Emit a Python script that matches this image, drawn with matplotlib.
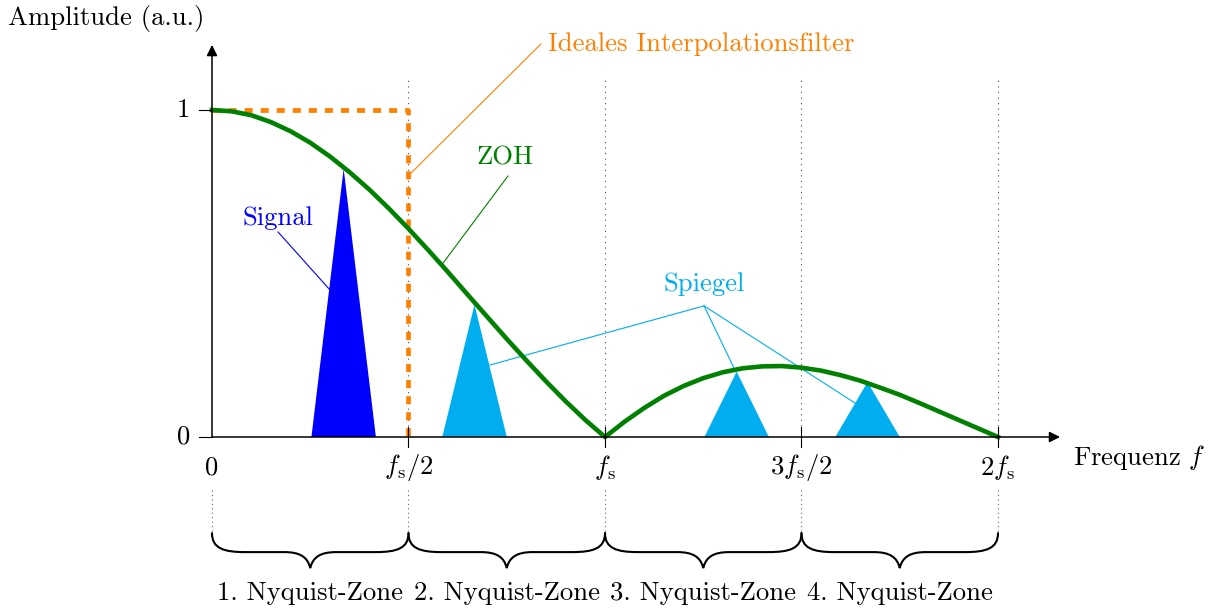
import numpy as np
import matplotlib
import matplotlib.pyplot as plt
from matplotlib.path import Path
from matplotlib.patches import PathPatch, Polygon

plt.rcParams['font.family'] = ['cmr10', 'DejaVu Serif']
plt.rcParams['mathtext.fontset'] = 'cm'
plt.rcParams['axes.unicode_minus'] = False

# frequency in units of fs, ZOH magnitude
f_zoh = [0.00, 0.05, 0.10, 0.15, 0.20, 0.25, 0.30, 0.35, 0.40, 0.45, 0.50,
         0.55, 0.60, 0.65, 0.70, 0.75, 0.80, 0.85, 0.90, 0.95, 1.00,
         1.05, 1.10, 1.15, 1.20, 1.25, 1.30, 1.35, 1.40, 1.45, 1.50,
         1.55, 1.60, 1.65, 1.70, 1.75, 1.80, 1.85, 1.90, 1.95, 2.00]
a_zoh = [1.000, 0.996, 0.984, 0.963, 0.935, 0.900, 0.858, 0.810, 0.757, 0.699, 0.637,
         0.572, 0.505, 0.436, 0.368, 0.300, 0.234, 0.170, 0.109, 0.052, 0.000,
         0.047, 0.089, 0.126, 0.156, 0.180, 0.198, 0.210, 0.216, 0.217, 0.212,
         0.203, 0.189, 0.172, 0.151, 0.129, 0.104, 0.078, 0.052, 0.026, 0.000]

# ideal interpolation filter
f_ideal = [0.0, 0.5, 0.5]
a_ideal = [1.0, 1.0, 0.0]

# signal and image spectra (triangles)
tri_center = [0.335, 0.668, 1.335, 1.668]
tri_height = [0.82, 0.405, 0.20, 0.168]
tri_halfwidth = 0.082

tick_pos = [0.0, 0.5, 1.0, 1.5, 2.0]
tick_labels = ['0', r'$f_\mathrm{s}/2$', r'$f_\mathrm{s}$', r'$3f_\mathrm{s}/2$', r'$2f_\mathrm{s}$']
zones = ['1. Nyquist-Zone', '2. Nyquist-Zone', '3. Nyquist-Zone', '4. Nyquist-Zone']

BLUE = '#0000ff'
CYAN = '#00aeef'
GREEN = '#008000'
ORANGE = '#ff8000'
FS = 19.2

fig = plt.figure(figsize=(12.11, 6.10), dpi=100)
ax = fig.add_axes([0, 0, 1, 1])
ax.set_xlim(-212 / 393, (1211 - 212) / 393)
ax.set_ylim(-(610 - 437) / 327, 437 / 327)
ax.axis('off')

# dotted guide lines
for x in tick_pos[1:]:
    ax.plot([x, x], [0, 1.092], color='0.3', lw=0.8, ls=(0, (1, 4)), zorder=1)
for x in tick_pos:
    ax.plot([x, x], [-0.162, -0.29], color='0.4', lw=0.8, ls=(0, (1, 3)), zorder=1)

# triangles
for i, (c, h) in enumerate(zip(tri_center, tri_height)):
    col = BLUE if i == 0 else CYAN
    ax.add_patch(Polygon([[c - tri_halfwidth, 0], [c, h], [c + tri_halfwidth, 0]],
                         closed=True, facecolor=col, edgecolor='none', zorder=2))

# ideal filter
ax.plot(f_ideal, a_ideal, color=ORANGE, lw=3.4, dashes=(1.7, 1.7),
        dash_capstyle='butt', zorder=3)

# ZOH
ax.plot(f_zoh, a_zoh, color=GREEN, lw=3.3, zorder=4, solid_joinstyle='round')

# axes with arrows
ax.annotate('', xy=(2.158, 0), xytext=(0, 0),
            arrowprops=dict(arrowstyle='-|>', lw=1.1, color='black', mutation_scale=16,
                            shrinkA=0, shrinkB=0), zorder=5)
ax.annotate('', xy=(0, 1.199), xytext=(0, 0),
            arrowprops=dict(arrowstyle='-|>', lw=1.1, color='black', mutation_scale=16,
                            shrinkA=0, shrinkB=0), zorder=5)

for x in tick_pos[1:]:
    ax.plot([x, x], [-0.03, 0.03], color='black', lw=0.8, zorder=5)
for y in [0, 1]:
    ax.plot([-0.033, 0], [y, y], color='black', lw=0.8, zorder=5)

for x, lab in zip(tick_pos, tick_labels):
    ax.text(x, -0.093, lab, ha='center', va='center', fontsize=FS)
ax.text(-0.072, 1, '1', ha='center', va='center', fontsize=FS)
ax.text(-0.072, 0, '0', ha='center', va='center', fontsize=FS)

ax.text(-0.27, 1.281, 'Amplitude (a.u.)', ha='center', va='center', fontsize=FS)
ax.text(2.19, -0.064, r'Frequenz $f$', ha='left', va='center', fontsize=FS)

# annotations
ax.text(0.855, 1.202, 'Ideales Interpolationsfilter', color=ORANGE, ha='left',
        va='center', fontsize=FS)
ax.plot([0.837, 0.504], [1.202, 0.804], color=ORANGE, lw=0.8)

ax.text(0.746, 0.853, 'ZOH', color=GREEN, ha='center', va='center', fontsize=FS)
ax.plot([0.753, 0.588], [0.798, 0.532], color=GREEN, lw=0.8)

ax.text(0.168, 0.670, 'Signal', color=BLUE, ha='center', va='center', fontsize=FS)
ax.plot([0.168, 0.300], [0.627, 0.450], color=BLUE, lw=0.8)

ax.text(1.252, 0.468, 'Spiegel', color=CYAN, ha='center', va='center', fontsize=FS)
for tx, ty in [(0.707, 0.220), (1.333, 0.199), (1.636, 0.104)]:
    ax.plot([1.252, tx], [0.401, ty], color=CYAN, lw=0.8)


def brace(x0, x1, ytop, ymid, ytip):
    xm = (x0 + x1) / 2
    r = 0.084
    q = 0.066
    verts = [(x0, ytop), (x0, ymid + 0.2 * (ytop - ymid)), (x0 + 0.35 * r, ymid), (x0 + r, ymid),
             (xm - q, ymid),
             (xm - 0.4 * q, ymid), (xm - 0.1 * q, ymid - 0.3 * (ymid - ytip)), (xm, ytip),
             (xm + 0.1 * q, ymid - 0.3 * (ymid - ytip)), (xm + 0.4 * q, ymid), (xm + q, ymid),
             (x1 - r, ymid),
             (x1 - 0.35 * r, ymid), (x1, ymid + 0.2 * (ytop - ymid)), (x1, ytop)]
    codes = [Path.MOVETO, Path.CURVE4, Path.CURVE4, Path.CURVE4,
             Path.LINETO,
             Path.CURVE4, Path.CURVE4, Path.CURVE4,
             Path.CURVE4, Path.CURVE4, Path.CURVE4,
             Path.LINETO,
             Path.CURVE4, Path.CURVE4, Path.CURVE4]
    ax.add_patch(PathPatch(Path(verts, codes), facecolor='none', edgecolor='black',
                           lw=1.5, capstyle='round'))


for i, z in enumerate(zones):
    x0, x1 = tick_pos[i], tick_pos[i + 1]
    brace(x0, x1, -0.294, -0.352, -0.401)
    ax.text((x0 + x1) / 2, -0.476, z, ha='center', va='center', fontsize=FS)

fig.savefig('out.png', dpi=100)
